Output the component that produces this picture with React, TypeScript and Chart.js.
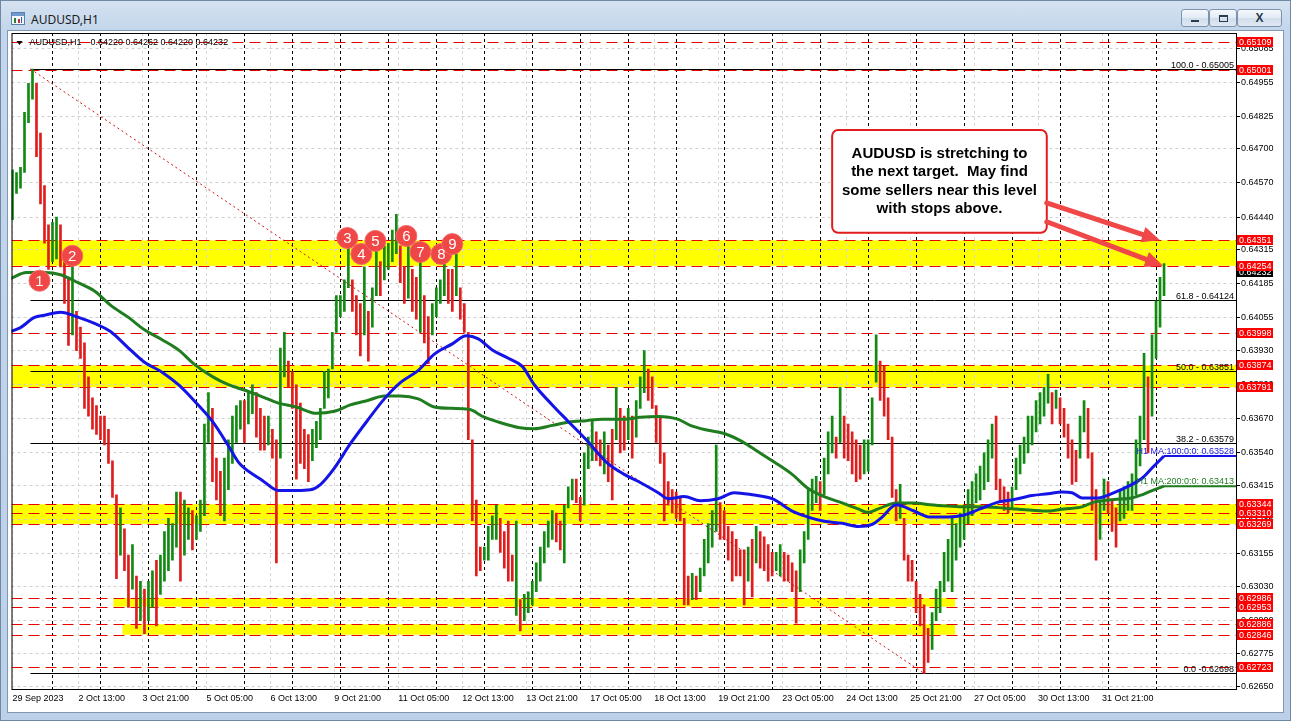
import React, { useEffect, useRef } from 'react';
import { Chart, registerables } from 'chart.js';

Chart.register(...registerables);

// ---------------- DATA ----------------
// hour index: 0 = 2 Oct 2023 00:00 (trading hours only, weekends skipped)
const weekStartHours = [-20, 0, 120, 240, 360, 480];

// each entry = one 2-hour bar [low, high] in pips (price x 10 000)
const week0Bars = [[6443, 6462], [6453, 6461], [6455, 6463], [6461, 6484], [6480, 6495], [6489, 6500.5], [6467, 6495], [6449, 6476], [6434, 6456], [6424, 6441]];
const week1Bars = [
  [6427, 6442], [6428, 6444], [6425, 6441], [6411, 6427], [6395, 6421], [6399, 6425], [6393, 6408], [6390, 6402], [6371, 6396], [6368, 6383],
  [6363, 6375], [6361, 6372], [6359, 6368], [6357, 6368], [6350, 6363], [6337, 6351], [6306, 6338], [6315, 6333], [6309, 6325], [6295, 6315],
  [6302, 6319], [6287, 6307], [6290, 6305], [6285, 6302], [6290, 6305], [6295, 6309], [6288, 6313], [6300, 6315], [6305, 6324], [6309, 6329],
  [6313, 6327], [6318, 6339], [6305, 6339], [6315, 6336], [6321, 6333], [6317, 6332], [6321, 6330], [6324, 6336], [6330, 6365], [6358, 6377],
  [6343, 6371], [6336, 6352], [6330, 6347], [6328, 6352], [6340, 6359], [6350, 6368], [6358, 6372], [6363, 6374], [6358, 6374], [6365, 6377],
  [6369, 6380], [6360, 6377], [6355, 6371], [6355, 6368], [6357, 6368], [6352, 6363], [6312, 6359], [6352, 6394], [6383, 6400], [6379, 6389]];
const week2Bars = [
  [6371, 6385], [6344, 6380], [6350, 6373], [6348, 6363], [6343, 6361], [6351, 6363], [6356, 6366], [6359, 6371], [6371, 6385], [6375, 6386],
  [6386, 6400], [6400, 6414], [6406, 6414], [6408, 6420], [6417, 6432], [6408, 6420], [6399, 6414], [6391, 6411], [6399, 6425], [6389, 6408],
  [6402, 6417], [6414, 6431], [6414, 6427], [6420, 6433], [6424, 6434], [6427, 6439], [6430, 6445], [6419, 6433], [6411, 6425], [6413, 6435],
  [6408, 6424], [6405, 6421], [6400, 6427], [6396, 6414], [6388, 6406], [6399, 6411], [6406, 6417], [6411, 6420], [6414, 6427], [6411, 6424],
  [6408, 6424], [6414, 6430], [6405, 6417], [6400, 6411], [6359, 6400], [6328, 6359], [6307, 6336], [6309, 6318], [6313, 6318], [6313, 6326],
  [6321, 6330], [6321, 6334], [6316, 6329], [6310, 6324], [6305, 6328], [6305, 6315], [6292, 6328], [6286, 6298], [6290, 6300], [6293, 6301]];
const week3Bars = [
  [6296, 6305], [6301, 6312], [6305, 6318], [6312, 6324], [6318, 6328], [6321, 6332], [6320, 6331], [6317, 6328], [6312, 6334], [6333, 6341],
  [6336, 6344], [6335, 6344], [6328, 6337], [6334, 6354], [6348, 6360], [6351, 6367], [6351, 6362], [6349, 6359], [6346, 6362], [6343, 6357],
  [6336, 6363], [6359, 6379], [6354, 6371], [6355, 6368], [6359, 6371], [6352, 6368], [6360, 6374], [6371, 6383], [6377, 6393], [6374, 6386],
  [6371, 6383], [6358, 6372], [6350, 6368], [6328, 6354], [6334, 6343], [6331, 6340], [6329, 6339], [6328, 6337], [6296, 6329], [6296, 6307],
  [6298, 6308], [6298, 6307], [6301, 6310], [6307, 6321], [6312, 6327], [6318, 6332], [6324, 6357], [6321, 6335], [6321, 6332], [6313, 6326],
  [6305, 6324], [6307, 6321], [6307, 6317], [6296, 6317], [6305, 6318], [6299, 6321], [6312, 6326], [6310, 6324], [6309, 6322], [6305, 6319]];
const week4Bars = [
  [6307, 6316], [6309, 6316], [6307, 6319], [6305, 6316], [6305, 6315], [6301, 6312], [6289, 6309], [6301, 6317], [6312, 6324], [6321, 6340],
  [6332, 6344], [6335, 6345], [6332, 6343], [6338, 6352], [6346, 6362], [6354, 6368], [6352, 6360], [6358, 6379], [6352, 6368], [6351, 6365],
  [6346, 6362], [6343, 6359], [6344, 6357], [6346, 6359], [6347, 6359], [6357, 6375], [6381, 6399], [6374, 6389], [6368, 6387], [6359, 6375],
  [6337, 6360], [6328, 6340], [6329, 6342], [6313, 6329], [6305, 6315], [6305, 6313], [6293, 6305], [6288, 6300], [6269.8, 6296], [6274, 6287],
  [6279, 6293], [6290, 6302], [6293, 6305], [6301, 6316], [6305, 6321], [6301, 6329], [6313, 6327], [6318, 6331], [6321, 6334], [6327, 6340],
  [6330, 6343], [6335, 6346], [6336, 6349], [6340, 6354], [6343, 6359], [6352, 6365], [6340, 6368], [6335, 6344], [6332, 6341], [6331, 6339]];
const week5Bars = [
  [6333, 6341], [6340, 6352], [6346, 6357], [6350, 6360], [6354, 6368], [6357, 6368], [6362, 6374], [6365, 6377], [6368, 6379], [6373, 6384],
  [6365, 6377], [6371, 6378], [6365, 6375], [6360, 6371], [6352, 6365], [6342, 6359], [6343, 6355], [6352, 6368], [6362, 6374], [6352, 6371],
  [6332, 6354], [6313, 6340], [6321, 6336], [6332, 6344], [6331, 6343], [6324, 6336], [6318, 6333], [6328, 6340], [6329, 6341], [6332, 6343],
  [6332, 6346], [6338, 6359], [6349, 6368], [6359, 6392], [6354, 6383], [6368, 6399], [6390, 6412], [6402, 6421], [6414, 6426.2]];

const ma100Hours = [-21, -16, -9, -4, 4, 13, 21, 29, 38, 46, 55, 63, 71, 80, 88, 93, 96, 105, 113, 122, 129, 134, 141, 149, 158, 166, 174, 183, 191, 200, 207, 213, 220, 228, 235, 241, 250, 258, 267, 277, 286, 294, 303, 308, 316, 324, 333, 341, 350, 360, 370, 378, 386, 395, 403, 410, 415, 422, 431, 439, 448, 456, 464, 473, 481, 490, 498, 505, 510, 515, 523, 531, 538, 545, 550, 556];
const ma100Pips = [6400.3, 6401.8, 6405.7, 6406.5, 6407.7, 6405.7, 6403.4, 6400.3, 6394.0, 6388.6, 6384.7, 6380.0, 6373.8, 6366.0, 6356.7, 6350.5, 6348.2, 6343.5, 6339.6, 6339.6, 6339.9, 6341.9, 6348.2, 6357.5, 6366.8, 6374.6, 6380.8, 6385.5, 6391.7, 6395.6, 6398.7, 6397.5, 6393.3, 6390.1, 6387.0, 6380.0, 6372.3, 6366.0, 6359.0, 6350.5, 6345.8, 6342.7, 6338.8, 6336.5, 6337.3, 6335.7, 6336.5, 6338.8, 6338.0, 6336.5, 6331.8, 6329.5, 6327.9, 6327.1, 6325.9, 6326.7, 6329.5, 6334.2, 6331.8, 6329.5, 6329.5, 6330.3, 6332.6, 6335.2, 6336.2, 6337.7, 6338.4, 6339.1, 6338.8, 6336.8, 6336.8, 6338.8, 6341.2, 6344.3, 6348.2, 6352.8];
const ma200Hours = [-21, -13, -4, 4, 13, 21, 29, 38, 46, 55, 63, 71, 80, 88, 97, 105, 113, 122, 132, 141, 149, 158, 166, 174, 183, 191, 200, 208, 216, 225, 233, 241, 250, 258, 267, 275, 286, 294, 303, 313, 319, 328, 336, 345, 353, 361, 370, 378, 386, 395, 403, 408, 413, 422, 431, 439, 448, 456, 464, 473, 481, 490, 498, 506, 515, 521, 531, 540, 545, 550, 556];
const ma200Pips = [6420.5, 6422.8, 6422.8, 6422.0, 6418.9, 6415.8, 6410.4, 6405.7, 6401.0, 6397.1, 6393.3, 6387.8, 6383.1, 6380.0, 6377.7, 6375.4, 6373.0, 6371.5, 6369.1, 6369.9, 6372.3, 6374.1, 6375.7, 6375.7, 6374.6, 6371.5, 6371.0, 6370.7, 6367.6, 6365.3, 6363.7, 6363.2, 6364.5, 6365.7, 6366.3, 6366.8, 6366.8, 6367.6, 6367.9, 6366.8, 6364.5, 6362.6, 6361.4, 6358.3, 6354.4, 6350.5, 6345.8, 6340.4, 6337.3, 6334.9, 6332.6, 6331.3, 6332.6, 6334.9, 6334.9, 6334.2, 6333.7, 6333.4, 6333.4, 6333.1, 6332.6, 6332.1, 6331.8, 6332.6, 6333.4, 6335.2, 6336.2, 6336.8, 6338.0, 6339.6, 6341.3];

const maLabelTexts = ['H1 MA:100:0:0: 0.63528', 'H1 MA:200:0:0: 0.63413'];
const maLabelPrices = [0.63528, 0.63413];

const priceTicks = [0.65085, 0.64955, 0.64825, 0.647, 0.6457, 0.6444, 0.64315, 0.64185, 0.64055, 0.6393, 0.638, 0.6367, 0.6354, 0.63415, 0.63285, 0.63155, 0.6303, 0.629, 0.62775, 0.6265];
const timeTickHours = [-20, 13, 45, 77, 109, 141, 173, 205, 237, 269, 301, 333, 365, 397, 429, 461, 493, 525];
const timeTickLabels = ['29 Sep 2023', '2 Oct 13:00', '3 Oct 21:00', '5 Oct 05:00', '6 Oct 13:00', '9 Oct 21:00', '11 Oct 05:00', '12 Oct 13:00', '13 Oct 21:00', '17 Oct 05:00', '18 Oct 13:00', '19 Oct 21:00', '23 Oct 05:00', '24 Oct 13:00', '25 Oct 21:00', '27 Oct 05:00', '30 Oct 13:00', '31 Oct 21:00'];
const daySeparatorHours = [0, 24, 48, 72, 96, 120, 144, 168, 192, 216, 240, 264, 288, 312, 336, 360, 384, 408, 432, 456, 480, 504, 528, 552];

const redLevels = [0.65109, 0.65001, 0.64351, 0.64254, 0.63998, 0.63874, 0.63791, 0.63344, 0.6331, 0.63269, 0.62986, 0.62953, 0.62886, 0.62846, 0.62723];
const bandLows = [0.64254, 0.63791, 0.63269, 0.62953, 0.62846];
const bandHighs = [0.64351, 0.63874, 0.63344, 0.62986, 0.62886];
const bandStartHours = [-21, -21, -21, 30.5, 35];
const bandEndHours = [600, 600, 600, 451.5, 451.5];

const fibPrices = [0.65005, 0.64124, 0.63851, 0.63579, 0.62698];
const fibLabels = ['100.0 - 0.65005', '61.8 - 0.64124', '50.0 - 0.63851', '38.2 - 0.63579', '0.0 -0.62698'];
const fibStartHour = -11;
const trendHours = [-11, 436];
const trendPrices = [0.65005, 0.62698];

const markerHours = [-6.5, 9.9, 147.5, 154.5, 161.5, 177, 184, 194.5, 200];
const markerPrices = [0.64197, 0.64292, 0.6436, 0.64299, 0.64349, 0.64368, 0.64307, 0.64299, 0.64337];
const markerLabels = ['1', '2', '3', '4', '5', '6', '7', '8', '9'];

const noteLines = ['AUDUSD is stretching to', 'the next target.  May find', 'some sellers near this level', 'with stops above.'];
const noteBoxHours = [390, 497.35];
const noteBoxPrices = [0.64772, 0.6438];
const arrowTailPrices = [0.64494, 0.64422];
const arrowTipHours = [554, 555.5];
const arrowTipPrices = [0.64351, 0.64254];

const currentPrice = 0.64232;
const headerSymbol = 'AUDUSD,H1';
const headerOHLC = ['0.64220', '0.64262', '0.64220', '0.64232'];

// ---------------- STYLE ----------------
const FONT = '"Liberation Sans", Arial, sans-serif';
const UP = '#128a12';
const DOWN = '#e01c1c';
const RED = '#e60000';

const weeks = [week0Bars, week1Bars, week2Bars, week3Bars, week4Bars, week5Bars];
const barPoints: { x: number; y: [number, number] }[] = [];
weeks.forEach((bars, w) => bars.forEach((b, j) => {
  barPoints.push({ x: weekStartHours[w] + 2 * j, y: [b[0] / 10000, b[1] / 10000] });
}));
const barColors = barPoints.map((p, i) => {
  if (i === 0) return UP;
  const prev = barPoints[i - 1].y;
  return p.y[0] + p.y[1] >= prev[0] + prev[1] ? UP : DOWN;
});

function drawArrow(ctx: CanvasRenderingContext2D, x1: number, y1: number, x2: number, y2: number) {
  const ang = Math.atan2(y2 - y1, x2 - x1);
  const head = 18, hw = 8;
  const bx = x2 - head * Math.cos(ang), by = y2 - head * Math.sin(ang);
  ctx.lineWidth = 5;
  ctx.lineCap = 'round';
  ctx.beginPath(); ctx.moveTo(x1, y1); ctx.lineTo(bx, by); ctx.stroke();
  ctx.beginPath();
  ctx.moveTo(x2, y2);
  ctx.lineTo(bx + hw * Math.sin(ang), by - hw * Math.cos(ang));
  ctx.lineTo(bx - hw * Math.sin(ang), by + hw * Math.cos(ang));
  ctx.closePath(); ctx.fill();
}

function axisLabel(ctx: CanvasRenderingContext2D, left: number, y: number, text: string, bg: string) {
  const yy = Math.round(y);
  ctx.fillStyle = bg;
  ctx.fillRect(left + 1, yy - 5, 36, 10);
  ctx.fillStyle = '#fff';
  ctx.font = `9px ${FONT}`;
  ctx.textAlign = 'left';
  ctx.textBaseline = 'middle';
  ctx.fillText(text, left + 3, yy + 0.5);
}

const mt4Plugin = {
  id: 'mt4Overlay',
  beforeDraw(chart: any) {
    const { ctx, chartArea: ca, scales } = chart;
    const x = scales.x, y = scales.y;
    ctx.save();
    ctx.beginPath(); ctx.rect(ca.left, ca.top, ca.right - ca.left, ca.bottom - ca.top); ctx.clip();
    ctx.fillStyle = '#ffff00';
    bandLows.forEach((lo, i) => {
      const x1 = Math.max(ca.left, x.getPixelForValue(bandStartHours[i]));
      const x2 = Math.min(ca.right, x.getPixelForValue(bandEndHours[i]));
      const y1 = y.getPixelForValue(bandHighs[i]);
      const y2 = y.getPixelForValue(lo);
      ctx.fillRect(x1, y1, x2 - x1, y2 - y1);
    });
    ctx.restore();
  },
  beforeDatasetsDraw(chart: any) {
    const { ctx, chartArea: ca, scales } = chart;
    const x = scales.x, y = scales.y;
    ctx.save();
    ctx.beginPath(); ctx.rect(ca.left, ca.top, ca.right - ca.left, ca.bottom - ca.top); ctx.clip();
    ctx.lineWidth = 1;
    // day separators
    ctx.strokeStyle = '#000';
    ctx.setLineDash([3, 3]);
    daySeparatorHours.forEach((h) => {
      const X = Math.round(x.getPixelForValue(h)) + 0.5;
      ctx.beginPath(); ctx.moveTo(X, ca.top); ctx.lineTo(X, ca.bottom); ctx.stroke();
    });
    // red horizontal levels
    ctx.strokeStyle = RED;
    ctx.setLineDash([11, 6]);
    redLevels.forEach((p) => {
      const Y = Math.round(y.getPixelForValue(p)) + 0.5;
      ctx.beginPath(); ctx.moveTo(ca.left, Y); ctx.lineTo(ca.right, Y); ctx.stroke();
    });
    // fibonacci levels
    ctx.setLineDash([]);
    ctx.strokeStyle = '#000';
    ctx.fillStyle = '#000';
    ctx.font = `9px ${FONT}`;
    ctx.textAlign = 'right';
    ctx.textBaseline = 'alphabetic';
    const fx = x.getPixelForValue(fibStartHour);
    fibPrices.forEach((p, i) => {
      const Y = Math.round(y.getPixelForValue(p)) + 0.5;
      ctx.beginPath(); ctx.moveTo(fx, Y); ctx.lineTo(ca.right, Y); ctx.stroke();
      ctx.fillText(fibLabels[i], ca.right - 2, Y - 2);
    });
    ctx.restore();
  },
  afterDatasetsDraw(chart: any) {
    const { ctx, chartArea: ca, scales } = chart;
    const x = scales.x, y = scales.y;
    ctx.save();
    // MA labels
    ctx.font = `9px ${FONT}`;
    ctx.textAlign = 'right';
    ctx.textBaseline = 'alphabetic';
    ['#1414e6', '#1f7d1f'].forEach((c, i) => {
      ctx.fillStyle = c;
      ctx.fillText(maLabelTexts[i], ca.right - 2, Math.round(y.getPixelForValue(maLabelPrices[i])) - 2);
    });
    // marker numbers
    const metaIdx = chart.data.datasets.findIndex((d: any) => d.label === 'markers');
    const meta = chart.getDatasetMeta(metaIdx);
    ctx.fillStyle = '#fff';
    ctx.font = `15px ${FONT}`;
    ctx.textAlign = 'center';
    ctx.textBaseline = 'middle';
    meta.data.forEach((pt: any, i: number) => ctx.fillText(markerLabels[i], pt.x, pt.y + 1));
    // note box
    const bx1 = x.getPixelForValue(noteBoxHours[0]);
    const bx2 = x.getPixelForValue(noteBoxHours[1]);
    const by1 = y.getPixelForValue(noteBoxPrices[0]);
    const by2 = y.getPixelForValue(noteBoxPrices[1]);
    ctx.beginPath();
    ctx.roundRect(bx1, by1, bx2 - bx1, by2 - by1, 6);
    ctx.fillStyle = '#ffffff';
    ctx.fill();
    ctx.lineWidth = 2;
    ctx.strokeStyle = '#e21d1d';
    ctx.stroke();
    ctx.fillStyle = '#000';
    ctx.font = `bold 15px ${FONT}`;
    noteLines.forEach((t, i) => ctx.fillText(t, (bx1 + bx2) / 2, by1 + 24 + i * 18.3));
    // arrows
    ctx.strokeStyle = '#f04848';
    ctx.fillStyle = '#f04848';
    arrowTipHours.forEach((h, i) => {
      drawArrow(ctx, bx2, y.getPixelForValue(arrowTailPrices[i]), x.getPixelForValue(h), y.getPixelForValue(arrowTipPrices[i]));
    });
    ctx.restore();
  },
  afterDraw(chart: any) {
    const { ctx, chartArea: ca, scales } = chart;
    const y = scales.y;
    ctx.save();
    // chart frame
    ctx.strokeStyle = '#000';
    ctx.lineWidth = 1;
    ctx.setLineDash([]);
    ctx.strokeRect(ca.left + 0.5, ca.top + 0.5, ca.right - ca.left, ca.bottom - ca.top);
    // header
    ctx.fillStyle = '#000';
    ctx.beginPath();
    ctx.moveTo(ca.left + 5, ca.top + 8); ctx.lineTo(ca.left + 11, ca.top + 8); ctx.lineTo(ca.left + 8, ca.top + 12); ctx.closePath(); ctx.fill();
    ctx.font = `9px ${FONT}`;
    ctx.textAlign = 'left';
    ctx.textBaseline = 'middle';
    ctx.fillText(headerSymbol, ca.left + 18, ca.top + 10);
    ctx.fillText(headerOHLC.join(' '), ca.left + 79, ca.top + 10);
    // price-axis labels
    axisLabel(ctx, ca.right, y.getPixelForValue(currentPrice), currentPrice.toFixed(5), '#000');
    redLevels.forEach((p) => axisLabel(ctx, ca.right, y.getPixelForValue(p), p.toFixed(5), '#ff0000'));
    ctx.restore();
  },
};

export default function App() {
  const canvasRef = useRef<HTMLCanvasElement | null>(null);

  useEffect(() => {
    const canvas = canvasRef.current;
    if (!canvas) return;
    const chart = new Chart(canvas, {
      type: 'bar',
      data: {
        datasets: [
          {
            type: 'scatter',
            label: 'markers',
            data: markerHours.map((h, i) => ({ x: h, y: markerPrices[i] })),
            pointRadius: 10.5,
            pointBackgroundColor: '#ef4646',
            pointBorderColor: '#f26a6a',
            pointBorderWidth: 1,
            order: 0,
          } as any,
          {
            type: 'line',
            label: 'MA100',
            data: ma100Hours.map((h, i) => ({ x: h, y: ma100Pips[i] / 10000 })),
            borderColor: '#1414e6',
            borderWidth: 3,
            pointRadius: 0,
            cubicInterpolationMode: 'monotone',
            order: 1,
          } as any,
          {
            type: 'line',
            label: 'MA200',
            data: ma200Hours.map((h, i) => ({ x: h, y: ma200Pips[i] / 10000 })),
            borderColor: '#1f7d1f',
            borderWidth: 3,
            pointRadius: 0,
            cubicInterpolationMode: 'monotone',
            order: 2,
          } as any,
          {
            type: 'line',
            label: 'MA100 level',
            data: [{ x: ma100Hours[ma100Hours.length - 1], y: maLabelPrices[0] }, { x: 600, y: maLabelPrices[0] }],
            borderColor: '#1414e6',
            borderWidth: 2,
            pointRadius: 0,
            order: 1,
          } as any,
          {
            type: 'line',
            label: 'MA200 level',
            data: [{ x: ma200Hours[ma200Hours.length - 1], y: maLabelPrices[1] }, { x: 600, y: maLabelPrices[1] }],
            borderColor: '#1f7d1f',
            borderWidth: 2,
            pointRadius: 0,
            order: 2,
          } as any,
          {
            type: 'line',
            label: 'fib base',
            data: trendHours.map((h, i) => ({ x: h, y: trendPrices[i] })),
            borderColor: '#d01010',
            borderWidth: 1,
            borderDash: [2, 3],
            pointRadius: 0,
            order: 4,
          } as any,
          {
            type: 'bar',
            label: 'AUDUSD H1',
            data: barPoints as any,
            backgroundColor: barColors,
            borderWidth: 0,
            barThickness: 2,
            grouped: false,
            order: 5,
          } as any,
        ],
      },
      options: {
        animation: false,
        responsive: false,
        maintainAspectRatio: false,
        events: [],
        layout: { padding: { left: 11, top: 33, right: 8, bottom: 9 } },
        plugins: { legend: { display: false }, tooltip: { enabled: false } },
        scales: {
          x: {
            type: 'linear',
            min: -20.5,
            max: 592,
            offset: false,
            afterFit: (s: any) => { s.height = 23; },
            afterBuildTicks: (s: any) => { s.ticks = timeTickHours.map((v) => ({ value: v })); },
            ticks: {
              autoSkip: false,
              maxRotation: 0,
              minRotation: 0,
              align: 'start',
              padding: 4,
              color: '#000',
              font: { family: FONT, size: 9 },
              callback: (_v: any, i: number) => timeTickLabels[i],
            },
            grid: { color: '#d6d6d6', drawTicks: false, offset: false, lineWidth: 1 },
            border: { display: false, dash: [3, 3] },
          } as any,
          y: {
            type: 'linear',
            position: 'right',
            min: 0.626388,
            max: 0.651424,
            afterFit: (s: any) => { s.width = 47; },
            afterBuildTicks: (s: any) => { s.ticks = priceTicks.map((v) => ({ value: v })); },
            ticks: {
              autoSkip: false,
              padding: 1,
              color: '#000',
              font: { family: FONT, size: 9 },
              callback: (v: any) => Number(v).toFixed(5),
            },
            grid: { color: '#d0d0d0', tickColor: '#000', tickLength: 4, lineWidth: 1 },
            border: { display: false, dash: [3, 3] },
          } as any,
        },
      } as any,
      plugins: [mt4Plugin as any],
    });
    return () => chart.destroy();
  }, []);

  const btn = (left: number, width: number, glyph: React.ReactNode) => (
    <div style={{
      position: 'absolute', left, top: 9, width, height: 18, boxSizing: 'border-box',
      border: '1px solid #7d92ad', borderRadius: 3,
      background: 'linear-gradient(#f6f9fc, #e2eaf4 50%, #d2ddeb 51%, #dfe8f3)',
      display: 'flex', alignItems: 'center', justifyContent: 'center',
      fontFamily: FONT, fontSize: 11, color: '#2b3a4e', fontWeight: 'bold',
    }}>{glyph}</div>
  );

  return (
    <div style={{
      position: 'fixed', left: 0, top: 0, width: 1291, height: 721, overflow: 'hidden',
      background: 'linear-gradient(#d5e2f1, #c3d6eb 30px, #bcd0e8)',
      boxShadow: 'inset 0 0 0 1px #6f88a6',
    }}>
      <div style={{ position: 'absolute', left: 11, top: 12, width: 14, height: 13, boxSizing: 'border-box', border: '1px solid #5a7fa8', background: '#f3f7fb' }}>
        <div style={{ position: 'absolute', left: 0, top: 0, width: 12, height: 3, background: '#6f9ad0' }} />
        <div style={{ position: 'absolute', left: 2, top: 5, width: 2, height: 5, background: '#2f7d2f' }} />
        <div style={{ position: 'absolute', left: 6, top: 6, width: 2, height: 4, background: '#c03030' }} />
        <div style={{ position: 'absolute', left: 9, top: 4, width: 1, height: 6, background: '#2f5fb0' }} />
      </div>
      <div style={{ position: 'absolute', left: 31, top: 11, fontFamily: '"Noto Sans", sans-serif', fontSize: 12, color: '#1b1b1b' }}>AUDUSD,H1</div>
      {btn(1181, 28, <div style={{ width: 8, height: 2, background: '#2b3a4e', marginTop: 6 }} />)}
      {btn(1209, 28, <div style={{ width: 9, height: 7, boxSizing: 'border-box', border: '1px solid #2b3a4e', borderTopWidth: 2 }} />)}
      {btn(1237, 45, <span style={{ fontSize: 12 }}>X</span>)}
      <div style={{ position: 'absolute', left: 8, top: 31, width: 1275, height: 681, background: '#ffffff', boxShadow: '0 0 0 1px #8197b3' }} />
      <canvas ref={canvasRef} width={1291} height={721} style={{ position: 'absolute', left: 0, top: 0, width: 1291, height: 721 }} />
    </div>
  );
}
